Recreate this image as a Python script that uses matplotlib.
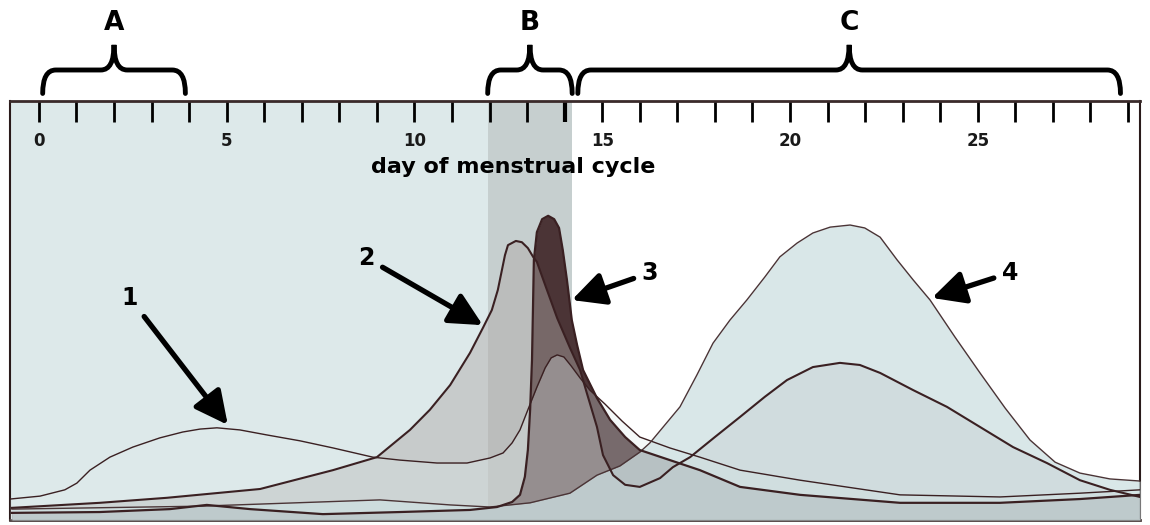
import matplotlib
matplotlib.use('Agg')
import matplotlib.pyplot as plt
import matplotlib.transforms as mtransforms
from matplotlib.path import Path
from matplotlib.patches import PathPatch

# day of cycle / relative level (% of panel height)
fsh_day = [-0.77, 0.03, 0.69, 1.01, 1.36, 1.89, 2.50, 3.22, 3.83, 4.29, 4.74, 5.35, 6.07, 6.95,
           7.83, 8.89, 9.61, 10.60, 11.40, 12.01, 12.36, 12.60, 12.81, 13.02, 13.26, 13.48,
           13.64, 13.80, 13.98, 14.17, 14.41, 14.67, 15.07, 15.53, 16.00, 16.80, 17.60, 18.67,
           20.27, 22.93, 25.59, 27.72, 29.32]
fsh_lvl = [5.0, 5.7, 7.2, 8.8, 11.9, 15.0, 17.4, 19.6, 21.0, 21.7, 22.0, 21.5, 20.3, 18.9,
           17.2, 15.0, 14.3, 13.6, 13.6, 14.8, 16.0, 18.4, 21.5, 26.3, 31.7, 36.3,
           38.7, 39.4, 38.9, 36.8, 33.9, 31.0, 27.7, 23.6, 19.8, 17.2, 15.0, 11.9,
           9.5, 6.0, 5.5, 6.4, 7.2]

estr_day = [-0.72, 1.62, 3.41, 5.89, 7.83, 9.00, 9.88, 10.41, 10.95, 11.48, 11.82, 12.06, 12.22,
            12.33, 12.41, 12.49, 12.70, 12.86, 13.02, 13.16, 13.26, 13.48, 13.80, 14.14, 14.41,
            14.59, 14.86, 15.02, 15.29, 15.61, 16.00, 16.54, 16.88, 17.34, 18.00, 18.67, 19.33,
            19.92, 20.61, 21.33, 21.86, 22.40, 23.28, 24.18, 25.06, 25.94, 26.84, 27.72, 28.52,
            29.32]
estr_lvl = [2.9, 4.1, 5.3, 7.4, 11.9, 15.0, 21.5, 26.3, 32.2, 39.9, 45.8, 50.1, 54.9,
            59.7, 63.2, 65.6, 66.6, 66.3, 64.9, 62.8, 61.6, 56.1, 48.2, 41.1, 35.8,
            30.3, 22.2, 15.5, 10.7, 8.4, 7.9, 10.0, 12.6, 15.0, 19.8, 24.6, 29.4,
            33.4, 36.5, 37.5, 37.0, 35.1, 31.0, 27.0, 22.2, 17.4, 13.6, 9.5, 7.2,
            5.5]

lh_day = [-0.72, 1.62, 3.49, 4.47, 5.62, 7.56, 9.61, 11.48, 12.20, 12.60, 12.81, 12.94, 13.02,
          13.08, 13.13, 13.16, 13.18, 13.26, 13.40, 13.56, 13.72, 13.85, 13.95, 14.06, 14.19,
          14.33, 14.49, 14.86, 15.21, 15.61, 16.00, 17.60, 18.67, 20.27, 22.93, 25.59, 27.72,
          29.32]
lh_lvl = [1.7, 1.9, 2.6, 3.6, 2.6, 1.4, 1.9, 2.4, 3.1, 4.3, 6.0, 10.3, 16.7,
          26.3, 38.2, 52.5, 62.1, 68.7, 71.8, 72.6, 71.8, 69.7, 64.4, 57.3, 47.7,
          41.8, 35.8, 29.1, 23.9, 19.8, 16.7, 11.9, 7.9, 6.0, 4.1, 4.1, 5.0,
          6.0]

prog_day = [-0.72, 4.29, 9.08, 10.95, 12.01, 13.08, 14.14, 14.86, 15.47, 16.00, 16.27, 16.67,
            17.07, 17.52, 17.95, 18.40, 18.85, 19.33, 19.73, 20.19, 20.61, 21.07, 21.60, 21.99,
            22.40, 22.85, 23.28, 23.73, 24.39, 25.06, 25.73, 26.39, 27.06, 27.72, 28.52, 29.32]
prog_lvl = [2.6, 3.3, 4.8, 3.6, 3.1, 4.1, 6.4, 10.7, 12.9, 16.2, 18.4, 22.7,
            27.0, 34.6, 42.2, 47.7, 52.5, 58.0, 62.8, 66.1, 68.5, 69.9, 70.4, 69.7,
            67.5, 62.1, 57.3, 52.5, 43.7, 35.1, 26.7, 19.1, 13.8, 11.2, 9.8, 9.3]

tick_days = list(range(30))
label_days = [0, 5, 10, 15, 20, 25]
grey_ticks = [0, 1, 2, 21, 22, 23, 24, 25, 26]

phase_names = ['A', 'B', 'C']
phase_start = [0.1, 11.95, 14.35]
phase_end = [3.9, 14.2, 28.8]

curve_ids = ['1', '2', '3', '4']
tip_day = [5.03, 11.82, 14.19, 23.78]
tip_lvl = [22.7, 46.5, 52.5, 53.0]
id_day = [2.42, 8.73, 16.27, 25.86]
id_lvl = [53.0, 62.5, 59.0, 59.0]

line_col = '#3a2022'

fig = plt.figure(figsize=(11.5, 5.25), dpi=100)
ax = fig.add_axes([10/1150, 5/525, 1130/1150, 419/525])
ax.set_xlim(-0.77, 29.32)
ax.set_ylim(0, 100)

# phase shading
ax.axvspan(-0.77, phase_start[1], color='#dde9ea', zorder=0, lw=0)
ax.axvspan(phase_start[1], phase_end[1], color='#c6cfcf', zorder=0, lw=0)

# fills, layered
ax.fill_between(lh_day, lh_lvl, 0, color='#4b3436', lw=0, zorder=1)
ax.fill_between(estr_day, estr_lvl, 0, color='#aea8a7', alpha=0.45, lw=0, zorder=2)
ax.fill_between(fsh_day, fsh_lvl, 0, color='#dde9ea', alpha=0.3, lw=0, zorder=3)
ax.fill_between(prog_day, prog_lvl, 0, color='#cddfe1', alpha=0.75, lw=0, zorder=4)

ax.plot(fsh_day, fsh_lvl, color=line_col, lw=1.0, zorder=5)
ax.plot(prog_day, prog_lvl, color='#4a3436', lw=1.0, zorder=5)
ax.plot(estr_day, estr_lvl, color=line_col, lw=1.5, zorder=5)
ax.plot(lh_day, lh_lvl, color=line_col, lw=1.6, zorder=5)

# ticks along the top, pointing in
ax.set_yticks([])
ax.set_xticks(tick_days)
ax.tick_params(axis='x', top=True, bottom=False, labeltop=False, labelbottom=False,
               direction='in', length=15, width=2)
for t, d in zip(ax.xaxis.get_major_ticks(), tick_days):
    t.tick2line.set_color('#86797a' if d in grey_ticks else '#231818')
    if d == 14:
        t.tick2line.set_markeredgewidth(3)
        t.tick2line.set_color('#4a3a3a')

trans = mtransforms.blended_transform_factory(ax.transData, ax.transAxes)
for d in label_days:
    ax.text(d, 0.905, str(d), transform=trans, ha='center', va='center',
            fontsize=12, fontweight='bold', color='#1a1a1a', zorder=7)
ax.text(12.62, 0.843, 'day of menstrual cycle', transform=trans, ha='center', va='center',
        fontsize=16, fontweight='bold', color='black', zorder=7)

for s in ['left', 'right']:
    ax.spines[s].set_color('#2a1a1a')
    ax.spines[s].set_linewidth(1.5)
ax.spines['top'].set_color('#3a2a2a')
ax.spines['top'].set_linewidth(2)
ax.spines['bottom'].set_color('#4a3a3a')
ax.spines['bottom'].set_linewidth(2)

# curve labels with arrows
for cid, td, tl, ld, ll in zip(curve_ids, tip_day, tip_lvl, id_day, id_lvl):
    ax.annotate(cid, xy=(td, tl), xytext=(ld, ll), fontsize=17, fontweight='bold',
                ha='center', va='center', zorder=8,
                arrowprops=dict(arrowstyle='-|>,head_length=1.0,head_width=0.5',
                                lw=3.8, color='black', shrinkA=4, shrinkB=0,
                                mutation_scale=20))

# braces over the phases
yb, yh, yt = 1.018, 1.074, 1.134
r = 0.35
for name, x0, x1 in zip(phase_names, phase_start, phase_end):
    xm = (x0 + x1) / 2
    verts = [(x0, yb), (x0, yh), (x0 + r, yh), (xm - r, yh), (xm, yh), (xm, yt),
             (xm, yh), (xm + r, yh), (x1 - r, yh), (x1, yh), (x1, yb)]
    codes = [Path.MOVETO, Path.CURVE3, Path.CURVE3, Path.LINETO, Path.CURVE3, Path.CURVE3,
             Path.CURVE3, Path.CURVE3, Path.LINETO, Path.CURVE3, Path.CURVE3]
    ax.add_patch(PathPatch(Path(verts, codes), transform=trans, fill=False, lw=3.5,
                           color='black', clip_on=False, capstyle='round'))
    ax.text(xm, 1.185, name, transform=trans, ha='center', va='center',
            fontsize=19, fontweight='bold')

fig.savefig('out.png', dpi=100, facecolor='white')
